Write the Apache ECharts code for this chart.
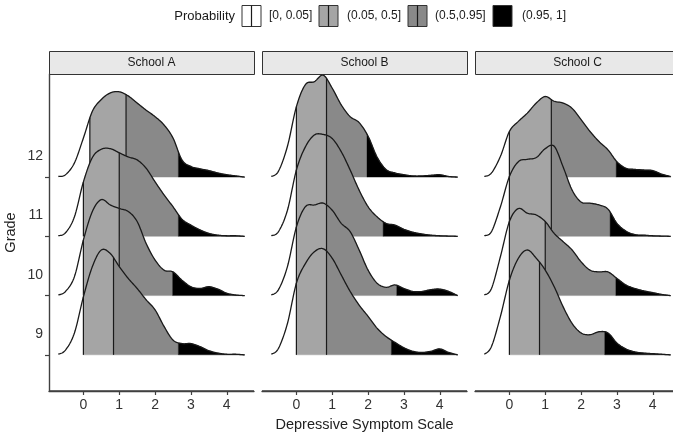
<!DOCTYPE html>
<html>
<head>
<meta charset="utf-8">
<script src="https://cdn.jsdelivr.net/npm/echarts@6/dist/echarts.min.js"></script>
<style>
  html, body { margin: 0; background: #fff; }
  #main { width: 673px; height: 435px; }
</style>
</head>
<body>
<div id="main"></div>
<script>
// ---- data ----
const schools = ['School A', 'School B', 'School C'];
const grades = [12, 11, 10, 9];
const xTicks = [0, 1, 2, 3, 4];
const legendLabels = ['[0, 0.05]', '(0.05, 0.5]', '(0.5,0.95]', '(0.95, 1]'];

// density heights (in grade-row units) at these scale values
const xGrid = [-0.7, -0.5, -0.25, 0, 0.25, 0.5, 0.75, 1, 1.25, 1.5, 1.75, 2, 2.25, 2.5, 2.75, 3, 3.25, 3.5, 3.75, 4, 4.25, 4.5];

const densA12 = [0.01, 0.04, 0.24, 0.66, 1.11, 1.31, 1.42, 1.44, 1.37, 1.25, 1.13, 1.02, 0.88, 0.66, 0.29, 0.18, 0.14, 0.11, 0.07, 0.04, 0.02, 0];
const densA11 = [0.01, 0.06, 0.33, 0.92, 1.33, 1.47, 1.48, 1.41, 1.34, 1.29, 1.15, 0.92, 0.70, 0.50, 0.29, 0.19, 0.11, 0.05, 0.02, 0.01, 0.01, 0];
const densA10 = [0.01, 0.07, 0.32, 0.94, 1.42, 1.62, 1.53, 1.47, 1.42, 1.25, 0.88, 0.60, 0.43, 0.40, 0.26, 0.15, 0.12, 0.15, 0.11, 0.04, 0.01, 0];
const densA9  = [0.01, 0.08, 0.37, 0.98, 1.49, 1.77, 1.71, 1.49, 1.29, 1.12, 0.93, 0.76, 0.48, 0.25, 0.19, 0.19, 0.14, 0.07, 0.03, 0.01, 0.01, 0];

const densB12 = [0.01, 0.10, 0.52, 1.19, 1.56, 1.61, 1.72, 1.50, 1.22, 1.02, 0.92, 0.69, 0.34, 0.13, 0.07, 0.04, 0.02, 0.02, 0.03, 0.04, 0.01, 0];
const densB11 = [0.01, 0.08, 0.44, 1.12, 1.51, 1.71, 1.72, 1.65, 1.43, 1.12, 0.78, 0.50, 0.33, 0.22, 0.19, 0.12, 0.07, 0.04, 0.02, 0.01, 0.005, 0];
const densB10 = [0.01, 0.10, 0.49, 1.16, 1.50, 1.53, 1.56, 1.44, 1.22, 1.08, 0.77, 0.43, 0.21, 0.14, 0.18, 0.12, 0.07, 0.07, 0.10, 0.11, 0.07, 0];
const densB9  = [0.01, 0.11, 0.53, 1.21, 1.54, 1.74, 1.79, 1.63, 1.35, 1.07, 0.84, 0.65, 0.45, 0.31, 0.21, 0.12, 0.06, 0.04, 0.06, 0.10, 0.04, 0];

const densC12 = [0.01, 0.07, 0.35, 0.77, 0.94, 1.08, 1.25, 1.36, 1.28, 1.25, 1.16, 0.97, 0.77, 0.60, 0.46, 0.26, 0.15, 0.13, 0.12, 0.11, 0.05, 0.01];
const densC11 = [0.01, 0.08, 0.50, 1.01, 1.26, 1.30, 1.33, 1.48, 1.52, 1.17, 0.78, 0.58, 0.56, 0.53, 0.46, 0.22, 0.09, 0.03, 0.02, 0.01, 0.005, 0];
const densC10 = [0.01, 0.12, 0.66, 1.25, 1.47, 1.39, 1.36, 1.25, 1.05, 0.91, 0.77, 0.57, 0.43, 0.40, 0.40, 0.29, 0.18, 0.12, 0.08, 0.05, 0.02, 0];
const densC9  = [0.01, 0.14, 0.65, 1.26, 1.63, 1.77, 1.63, 1.43, 1.15, 0.81, 0.53, 0.37, 0.34, 0.39, 0.37, 0.20, 0.10, 0.05, 0.03, 0.02, 0.01, 0];

// 5%, 50%, 95% quantiles
const quantA12 = [0.18, 1.19, 2.65];
const quantA11 = [0, 1.0, 2.65];
const quantA10 = [0, 1.0, 2.49];
const quantA9  = [0, 0.84, 2.65];
const quantB12 = [0, 0.84, 1.97];
const quantB11 = [0, 0.84, 2.42];
const quantB10 = [0, 0.84, 2.8];
const quantB9  = [0, 0.84, 2.65];
const quantC12 = [0, 1.17, 2.98];
const quantC11 = [0, 1.17, 2.81];
const quantC10 = [0, 1.0, 2.97];
const quantC9  = [0, 0.84, 2.66];

const ridges = {
  'School A': { 12: [densA12, quantA12], 11: [densA11, quantA11], 10: [densA10, quantA10], 9: [densA9, quantA9] },
  'School B': { 12: [densB12, quantB12], 11: [densB11, quantB11], 10: [densB10, quantB10], 9: [densB9, quantB9] },
  'School C': { 12: [densC12, quantC12], 11: [densC11, quantC11], 10: [densC10, quantC10], 9: [densC9, quantC9] }
};

const xMin = -0.96, xMax = 4.76;
const yMin = 8.39, yMax = 13.74;

const bandColors = ['#ffffff', '#a5a5a5', '#898989', '#000000'];
const lineColor = '#1a1a1a';
const axisColor = '#404040';
const font = 'Liberation Sans';

// smooth the read-off points (catmull-rom), like a density line
function cr(p0, p1, p2, p3, t) {
  return 0.5 * (2 * p1 + (-p0 + p2) * t + (2 * p0 - 5 * p1 + 4 * p2 - p3) * t * t + (-p0 + 3 * p1 - 3 * p2 + p3) * t * t * t);
}
function smoothCurve(xs, ys) {
  const pts = [];
  const n = 12;
  for (let i = 0; i < xs.length - 1; i++) {
    const a = Math.max(i - 1, 0), d = Math.min(i + 2, xs.length - 1);
    for (let k = 0; k < n; k++) {
      const t = k / n;
      pts.push([cr(xs[a], xs[i], xs[i + 1], xs[d], t), Math.max(0, cr(ys[a], ys[i], ys[i + 1], ys[d], t))]);
    }
  }
  pts.push([xs[xs.length - 1], ys[ys.length - 1]]);
  return pts;
}
function heightAt(pts, x) {
  for (let i = 0; i < pts.length - 1; i++) {
    if (x >= pts[i][0] && x <= pts[i + 1][0]) {
      const f = (x - pts[i][0]) / (pts[i + 1][0] - pts[i][0] || 1);
      return pts[i][1] + f * (pts[i + 1][1] - pts[i][1]);
    }
  }
  return 0;
}
function cut(pts, a, b) {
  const inner = pts.filter(p => p[0] > a && p[0] < b);
  return [[a, heightAt(pts, a)], ...inner, [b, heightAt(pts, b)]];
}

function makeRender(school) {
  return function (params, api) {
    const g = api.value(1);
    const [dens, q] = ridges[school][g];
    const pts = smoothCurve(xGrid, dens);
    const x0 = xGrid[0], x1 = xGrid[xGrid.length - 1];
    const edges = [x0, q[0], q[1], q[2], x1];
    const children = [];
    for (let i = 0; i < 4; i++) {
      if (edges[i + 1] <= edges[i]) continue;
      const seg = cut(pts, edges[i], edges[i + 1]);
      const poly = seg.map(p => api.coord([p[0], g + p[1]]));
      poly.push(api.coord([edges[i + 1], g]), api.coord([edges[i], g]));
      children.push({
        type: 'polygon',
        shape: { points: poly },
        style: { fill: bandColors[i], stroke: bandColors[i], lineWidth: 0.4 }
      });
    }
    [q[0], q[1]].forEach(v => {
      const p0 = api.coord([v, g]);
      const p1 = api.coord([v, g + heightAt(pts, v)]);
      children.push({
        type: 'line',
        shape: { x1: p0[0], y1: p0[1], x2: p1[0], y2: p1[1] },
        style: { stroke: lineColor, lineWidth: 1.2 }
      });
    });
    children.push({
      type: 'polyline',
      shape: { points: pts.map(p => api.coord([p[0], g + p[1]])) },
      style: { fill: null, stroke: lineColor, lineWidth: 1.3 }
    });
    // bottom axis line of the panel (drawn once, with the last ridge)
    if (params.dataIndex === grades.length - 1) {
      const a = api.coord([xMin, yMin]);
      const b = api.coord([xMax, yMin]);
      children.push({
        type: 'line',
        shape: { x1: a[0], y1: a[1], x2: b[0], y2: b[1] },
        style: { stroke: axisColor, lineWidth: 1.4 }
      });
    }
    return { type: 'group', children: children };
  };
}

const panelLeft = [49, 262, 475];
const panelWidth = 205;
const panelTop = 74;
const panelHeight = 317;

const grid = [], xAxis = [], yAxis = [], series = [];
const graphic = [];

schools.forEach((s, i) => {
  grid.push({
    left: panelLeft[i], top: panelTop, width: panelWidth, height: panelHeight,
    outerBoundsMode: 'none'
  });
  xAxis.push({
    type: 'value', gridIndex: i, min: xMin, max: xMax,
    splitLine: { show: false },
    axisLine: { show: true, onZero: false, lineStyle: { color: axisColor, width: 1.4 } },
    axisTick: { show: true, customValues: xTicks, length: 4, lineStyle: { color: axisColor, width: 1.2 } },
    axisLabel: { customValues: xTicks, margin: 7, fontSize: 14, color: '#333', fontFamily: font },
    name: i === 1 ? 'Depressive Symptom Scale' : '',
    nameLocation: 'middle', nameGap: 26,
    nameTextStyle: { fontSize: 14.5, color: '#222', fontFamily: font }
  });
  yAxis.push({
    type: 'value', gridIndex: i, min: yMin, max: yMax, show: i === 0,
    splitLine: { show: false },
    axisLine: { show: true, onZero: false, lineStyle: { color: axisColor, width: 1.4 } },
    axisTick: { show: true, customValues: grades, length: 4, lineStyle: { color: axisColor, width: 1.2 } },
    axisLabel: {
      customValues: grades.map(g => g + 0.35),
      formatter: v => String(Math.round(v - 0.35)),
      margin: 6, fontSize: 14, color: '#333', fontFamily: font
    },
    name: 'Grade', nameLocation: 'middle', nameGap: 31, nameRotate: 90,
    nameTextStyle: { fontSize: 14.5, color: '#222', fontFamily: font }
  });
  series.push({
    type: 'custom', xAxisIndex: i, yAxisIndex: i, silent: true, clip: false,
    data: grades.map(g => [0, g]),
    encode: { x: 0, y: 1 },
    renderItem: makeRender(s)
  });
  graphic.push({
    type: 'rect', left: panelLeft[i], top: 51,
    shape: { width: panelWidth, height: 23 },
    style: { fill: '#e8e8e8', stroke: '#333', lineWidth: 1 }
  });
  graphic.push({
    type: 'text', x: panelLeft[i] + panelWidth / 2, y: 62.5,
    style: { text: s, fontSize: 12, fontFamily: font, fill: '#1a1a1a', align: 'center', verticalAlign: 'middle' }
  });
});

// legend drawn as graphic keys
const keyX = [242, 319, 408, 493];
const labelX = [269, 347, 435, 522];
graphic.push({
  type: 'text', x: 235, y: 16,
  style: { text: 'Probability', fontSize: 13, fontFamily: font, fill: '#1a1a1a', align: 'right', verticalAlign: 'middle' }
});
legendLabels.forEach((lab, i) => {
  graphic.push({
    type: 'rect', x: keyX[i], y: 5.5,
    shape: { width: 19, height: 21 },
    style: { fill: bandColors[i], stroke: '#333', lineWidth: 1 }
  });
  if (i < 3) {
    graphic.push({
      type: 'line',
      shape: { x1: keyX[i] + 9.5, y1: 5.5, x2: keyX[i] + 9.5, y2: 26.5 },
      style: { stroke: lineColor, lineWidth: 1.2 }
    });
  }
  graphic.push({
    type: 'text', x: labelX[i], y: 16,
    style: { text: lab, fontSize: 12, fontFamily: font, fill: '#1a1a1a', align: 'left', verticalAlign: 'middle' }
  });
});

const chart = echarts.init(document.getElementById('main'));
chart.setOption({
  backgroundColor: '#ffffff',
  animation: false,
  grid: grid,
  xAxis: xAxis,
  yAxis: yAxis,
  series: series,
  graphic: graphic
});
</script>
</body>
</html>
